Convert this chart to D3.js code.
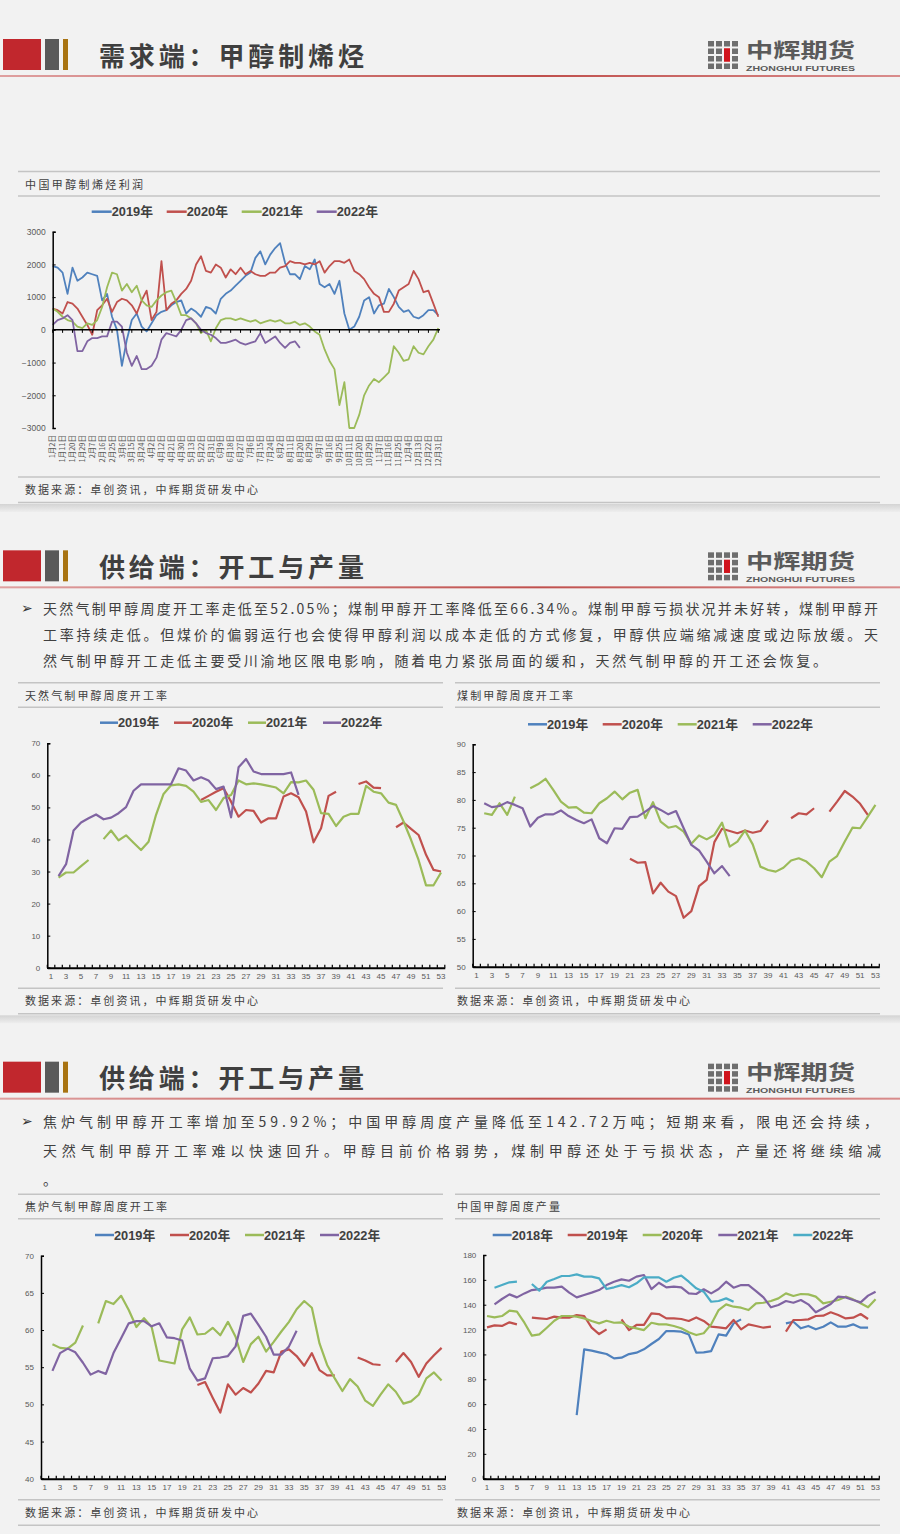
<!DOCTYPE html>
<html><head><meta charset="utf-8">
<script src="https://cdn.jsdelivr.net/npm/d3@7"></script>
<style>body{margin:0;background:#f2f2f2;}svg{display:block}</style>
</head><body>
<svg id="c" width="900" height="1534"></svg>
<script>
const _ = null;
// ---------- Slide titles & texts ----------
const slideTitles = ['需求端：甲醇制烯烃','供给端：开工与产量','供给端：开工与产量'];
const slide2Text = ['天然气制甲醇周度开工率走低至52.05%；煤制甲醇开工率降低至66.34%。煤制甲醇亏损状况并未好转，煤制甲醇开',
 '工率持续走低。但煤价的偏弱运行也会使得甲醇利润以成本走低的方式修复，甲醇供应端缩减速度或边际放缓。天',
 '然气制甲醇开工走低主要受川渝地区限电影响，随着电力紧张局面的缓和，天然气制甲醇的开工还会恢复。'];
const slide3Text = ['焦炉气制甲醇开工率增加至59.92%；中国甲醇周度产量降低至142.72万吨；短期来看，限电还会持续，',
 '天然气制甲醇开工率难以快速回升。甲醇目前价格弱势，煤制甲醇还处于亏损状态，产量还将继续缩减','。'];
const sourceText = '数据来源：卓创资讯，中辉期货研发中心';
const chartTitles = ['中国甲醇制烯烃利润','天然气制甲醇周度开工率','煤制甲醇周度开工率','焦炉气制甲醇周度开工率','中国甲醇周度产量'];
const yearLabels = ['2019年','2020年','2021年','2022年'];
const prodYearLabels = ['2018年','2019年','2020年','2021年','2022年'];

// ---------- Chart 1: MTO profit (sampled every 4.5 trading days) ----------
const olefinDateLabels = ['1月2日','1月11日','1月20日','1月29日','2月7日','2月16日','2月25日','3月6日','3月15日','3月24日',
 '4月2日','4月12日','4月21日','4月30日','5月13日','5月22日','5月31日','6月9日','6月18日','6月27日',
 '7月6日','7月15日','7月24日','8月2日','8月11日','8月20日','8月29日','9月7日','9月16日','9月25日',
 '10月11日','10月20日','10月29日','11月7日','11月16日','11月25日','12月4日','12月13日','12月22日','12月31日'];
const olefinTicks = [-3000,-2000,-1000,0,1000,2000,3000];
const olefin2019 = [1950,1900,1750,1100,1900,1500,1600,1750,1700,1650,900,1100,400,0,-1100,-300,300,500,100,-50,
 200,450,550,600,750,850,900,500,650,550,400,700,650,500,950,1100,1200,1350,1500,1650,
 1750,2200,2400,2000,2300,2500,2650,2050,1700,1700,1550,1950,1850,2150,1400,1300,1400,1100,1500,500,
 0,100,400,900,1000,500,750,800,1250,1000,700,550,600,400,350,450,600,600,450];
const olefin2020 = [650,600,500,850,800,650,400,150,-150,600,750,950,550,850,950,900,750,500,900,1200,
 300,550,2100,600,800,900,1100,1250,1500,2000,2250,1800,1750,2000,1900,1600,1850,1700,1900,1700,
 1800,1700,1650,1650,1750,1750,1900,1950,2100,2050,2050,2000,2050,2000,2100,1750,1950,2100,2100,2050,
 2150,1800,1700,1550,1300,1100,1000,550,550,800,1200,1300,1400,1800,1550,1150,1200,800,400];
const olefin2021 = [650,550,400,300,250,100,50,200,150,300,700,1300,1750,1700,1200,1400,1150,1350,900,750,
 700,900,1050,1150,1200,850,450,450,350,200,-100,0,-350,50,300,350,350,300,350,300,
 250,300,200,250,300,250,300,200,200,250,150,200,100,-50,-150,-600,-950,-1200,-2300,-1600,
 -3000,-3000,-2600,-2000,-1700,-1500,-1600,-1450,-1300,-500,-700,-950,-900,-500,-700,-750,-500,-300,50];
const olefin2022 = [150,300,350,450,300,-650,-650,-350,-250,-250,-200,-200,250,250,100,-700,-1100,-800,-1200,-1200,
 -1100,-850,-300,-100,-150,-200,0,300,350,200,0,-100,-150,-250,-400,-400,-350,-300,-400,-450,
 -400,-350,-100,-400,-300,-200,-400,-550,-400,-350,-550];

// ---------- Weekly charts ----------
const weeks = d3.range(1, 54);
const weekTickLabels = d3.range(1, 54, 2);

const ngas2019 = [];
const ngas2020 = [_,_,_,_,_,_,_,_,_,_,_,_,_,_,_,_,_,_,_,_,52.3,53.6,54.9,56.0,51.8,47.1,49.2,48.9,45.3,46.6,46.6,53.4,54.4,53.2,48.7,39.1,43.5,53.6,54.9,_,_,57.3,58.1,56.2,56.0,_,43.8,45.3,43.3,41.4,35.2,30.5,30.0];
const ngas2021 = [_,28.1,29.7,29.7,31.7,33.6,_,40.1,42.8,39.7,41.3,39.0,36.7,39.3,47.7,54.2,56.9,57.2,56.7,54.9,51.7,52.3,49.2,52.9,53.9,58.4,57.2,57.5,57.2,56.7,56.2,54.4,57.9,57.8,58.4,55.5,48.2,48.0,44.2,47.1,48.0,48.0,56.7,54.9,54.4,51.5,50.8,45.6,39.9,33.6,25.7,25.7,29.7];
const ngas2022 = [_,28.6,32.3,42.8,45.3,46.6,47.8,46.3,46.8,48.2,50.1,55.2,57.2,57.2,57.2,57.2,57.2,62.2,61.5,58.4,59.4,58.4,55.7,56.5,46.9,62.5,65.1,61.2,60.4,60.4,60.4,60.4,60.9,53.9];
const ngasTicks = [0,10,20,30,40,50,60,70];

const coal2019 = [];
const coal2020 = [_,_,_,_,_,_,_,_,_,_,_,_,_,_,_,_,_,_,_,_,69.4,68.7,68.8,63.2,65.1,63.5,62.7,58.8,60.0,64.5,65.6,72.4,74.8,74.4,74.0,74.5,74.1,74.4,76.3,_,_,76.7,77.6,77.4,78.5,_,77.9,79.7,81.6,80.6,79.3,77.3];
const coal2021 = [_,77.6,77.3,79.4,77.3,80.6,_,82.1,82.8,83.8,81.8,79.7,78.6,78.7,77.7,77.6,79.4,80.3,81.5,80.1,81.3,81.8,76.7,79.6,76.1,75.0,75.3,74.3,72.1,73.6,72.9,73.7,75.9,71.6,72.5,74.5,72.0,68.0,67.4,67.1,67.8,69.1,69.5,68.9,67.7,66.1,68.9,69.9,72.5,75.0,74.9,77.0,79.1];
const coal2022 = [_,79.4,78.7,78.9,79.6,79.1,78.5,75.2,76.8,77.4,77.4,78.1,77.1,76.4,75.8,76.5,73.1,72.2,74.9,74.8,76.9,77.0,77.9,78.9,78.2,77.4,78.0,74.9,71.9,70.9,68.9,66.8,68.1,66.3];
const coalTicks = [50,55,60,65,70,75,80,85,90];

const coke2019 = [];
const coke2020 = [_,_,_,_,_,_,_,_,_,_,_,_,_,_,_,_,_,_,_,_,52.6,53.0,50.9,48.9,52.7,51.3,52.2,51.6,52.8,54.5,54.3,57.1,57.4,56.5,55.2,56.9,54.6,53.9,53.9,_,_,56.3,55.9,55.4,55.3,_,55.7,56.9,55.7,53.7,55.5,56.6,57.6];
const coke2021 = [_,58.1,57.6,57.5,58.3,60.6,_,60.9,63.9,63.5,64.6,62.7,60.4,61.6,60.4,55.9,55.7,55.5,60.1,61.7,59.4,59.5,60.3,59.3,61.1,59.1,55.7,58.1,59.1,57.1,58.4,59.8,61.1,62.8,63.9,63.0,58.2,55.3,53.5,51.8,53.4,52.4,50.5,49.8,51.3,52.7,51.7,50.1,50.4,51.3,53.5,54.3,53.2];
const coke2022 = [_,54.5,56.9,57.5,57.0,55.6,54.0,54.5,54.1,56.9,58.9,60.9,61.2,61.2,60.5,60.9,59.0,58.9,58.6,54.8,53.2,53.5,56.2,56.3,56.5,57.8,61.9,62.2,60.7,59.1,56.7,56.7,57.8,59.9];
const cokeTicks = [40,45,50,55,60,65,70];

const prod2018 = [_,_,_,_,_,_,_,_,_,_,_,_,51.2,104.1,103.0,101.7,100.3,96.8,97.4,100.3,101.4,104.1,108.4,112.4,118.8,118.8,118.3,116.1,101.4,101.7,102.7,116.1,115.1,125.0,128.2,_,_,_,_,_,125.0,126.3,121.0,122.9,120.2,122.3,125.8,122.3,122.3,124.2,121.5,121.5];
const prod2019 = [121.8,123.4,122.9,125.8,124.2,_,129.6,129.0,128.5,130.4,129.6,129.6,131.7,130.9,121.5,116.4,120.2,_,128.2,119.6,123.7,123.7,133.0,132.5,129.0,129.0,128.5,126.9,129.8,126.9,122.3,121.8,121.0,127.7,120.2,124.2,122.9,121.5,122.3,_,118.3,127.7,127.7,128.2,130.9,131.2,133.9,131.7,129.0,129.6,132.5,128.5];
const prod2020 = [130.9,129.8,130.9,135.2,134.4,125.5,115.1,116.1,121.5,127.1,130.9,130.9,130.4,129.0,126.9,125.0,127.1,125.5,125.8,122.3,121.0,119.6,125.5,124.2,124.2,122.9,121.0,117.8,115.6,117.0,124.2,135.7,140.3,138.4,137.6,135.7,141.1,141.6,143.0,145.1,149.1,147.0,148.6,148.3,146.5,141.1,142.4,143.8,146.5,144.3,141.1,137.9,144.3];
const prod2021 = [_,140.3,144.6,148.3,145.9,149.1,151.8,152.6,153.7,153.7,154.5,149.7,145.9,147.8,149.7,151.8,155.8,158.5,160.4,159.3,162.6,163.9,152.6,157.7,154.0,154.5,154.0,149.1,148.6,152.4,149.1,152.6,158.5,153.7,155.8,155.8,151.0,145.9,137.9,139.8,143.0,141.6,143.8,140.3,133.9,137.1,140.6,146.5,145.9,143.8,141.9,147.3,150.5];
const prod2022 = [_,153.7,155.8,158.0,158.5,_,156.7,151.3,158.5,160.7,163.1,163.1,164.4,162.6,162.6,161.2,152.6,154.0,155.8,154.0,157.2,162.0,162.0,162.0,158.5,161.7,163.4,158.5,153.2,150.5,142.4,143.0,145.1,142.4];
const prodTicks = [0,20,40,60,80,100,120,140,160,180];

// ---------- Drawing ----------
const slideH = 1534/3;
const COL = {blue:'#4F81BD', red:'#C0504D', green:'#9BBB59', purple:'#8064A2', cyan:'#4BACC6'};
const CJK = '"Noto Sans CJK SC", sans-serif';
const NUM = '"Liberation Sans", Arial, "Noto Sans CJK SC", sans-serif';
const svg = d3.select('#c');
svg.append('rect').attr('width',900).attr('height',1534).attr('fill','#f2f2f2');
const defs = svg.append('defs');
const rg = defs.append('linearGradient').attr('id','redline');
[['0%','#dfa0a0'],['60%','#c0504d'],['100%','#d98c8c']].forEach(s=>rg.append('stop').attr('offset',s[0]).attr('stop-color',s[1]));
const sg = defs.append('linearGradient').attr('id','shade').attr('x1',0).attr('y1',0).attr('x2',0).attr('y2',1);
[['0%','#d4d4d4'],['100%','#eeeeee']].forEach(s=>sg.append('stop').attr('offset',s[0]).attr('stop-color',s[1]));

function header(k){
  const g = svg.append('g').attr('transform',`translate(0,${k*slideH})`);
  g.append('rect').attr('x',3).attr('y',39).attr('width',38).attr('height',31).attr('fill','#c1272d');
  g.append('rect').attr('x',45).attr('y',39).attr('width',14).attr('height',31).attr('fill','#595959');
  g.append('rect').attr('x',63).attr('y',39).attr('width',5).attr('height',31).attr('fill','#a87312');
  g.append('text').attr('x',99).attr('y',54).attr('dominant-baseline','central')
    .attr('font-family',CJK).attr('font-weight',700).attr('font-size',26).attr('fill','#3f3f3f')
    .attr('textLength',265).attr('lengthAdjust','spacing').text(slideTitles[k]);
  g.append('rect').attr('x',0).attr('y',75).attr('width',900).attr('height',2).attr('fill','url(#redline)');
  // logo
  for(let r=0;r<4;r++) for(let c=0;c<4;c++){
    const red = (c===2 && (r===1||r===2));
    g.append('rect').attr('x',708+c*8).attr('y',41+r*7.5).attr('width',6).attr('height',5.5)
      .attr('fill', red ? '#d0141c' : '#6e6e6e');
  }
  g.append('rect').attr('x',724).attr('y',48.5).attr('width',6).attr('height',13).attr('fill','#d0141c');
  g.append('text').attr('x',746).attr('y',49).attr('dominant-baseline','central').attr('font-family',CJK)
    .attr('font-weight',700).attr('font-size',20).attr('fill','#5a5a5a').attr('textLength',109).attr('lengthAdjust','spacingAndGlyphs').text('中辉期货');
  g.append('text').attr('x',746).attr('y',70.5).attr('font-family','"Liberation Sans Narrow","Liberation Sans",Arial')
    .attr('font-weight',700).attr('font-size',8).attr('fill','#5a5a5a').attr('textLength',109).attr('lengthAdjust','spacingAndGlyphs').text('ZHONGHUI FUTURES');
  if(k<2) g.append('rect').attr('x',0).attr('y',504).attr('width',900).attr('height',8).attr('fill','url(#shade)');
}

function frame(k, split){
  const g = svg.append('g').attr('transform',`translate(0,${k*slideH})`);
  const segs = split ? [[18,443],[455,880]] : [[18,880]];
  [171.5,196,477].forEach(yy => segs.forEach(s => g.append('line').attr('x1',s[0]).attr('x2',s[1]).attr('y1',yy).attr('y2',yy).attr('stroke','#c4c4c4').attr('stroke-width',1.5)));
  g.append('line').attr('x1',18).attr('x2',880).attr('y1',502.5).attr('y2',502.5).attr('stroke','#c4c4c4').attr('stroke-width',1.5);
  return g;
}
function smallText(g, x, y, str, len){
  g.append('text').attr('x',x).attr('y',y).attr('dominant-baseline','central').attr('font-family',CJK)
    .attr('font-size',11).attr('fill','#404040').attr('textLength',len).attr('lengthAdjust','spacing').text(str);
}
function paragraph(k, lines, ys, lens){
  const g = svg.append('g').attr('transform',`translate(0,${k*slideH})`);
  g.append('text').attr('x',21).attr('y',ys[0]).attr('dominant-baseline','central').attr('font-family','"DejaVu Sans"')
    .attr('font-weight',700).attr('font-size',14).attr('fill','#333').text('➢');
  lines.forEach((t,i)=>{
    const tx = g.append('text').attr('x',43).attr('y',ys[i]).attr('dominant-baseline','central').attr('font-family',CJK)
      .attr('font-size',14).attr('fill','#404040').text(t);
    if(lens[i]) tx.attr('textLength',lens[i]).attr('lengthAdjust','spacing');
  });
}
function legend(y, xs, len, labels, colors){
  const g = svg.append('g');
  labels.forEach((l,i)=>{
    g.append('line').attr('x1',xs[i]).attr('x2',xs[i]+len).attr('y1',y).attr('y2',y).attr('stroke',colors[i]).attr('stroke-width',2.5);
    g.append('text').attr('x',xs[i]+len).attr('y',y).attr('dominant-baseline','central').attr('font-family',NUM)
      .attr('font-weight',700).attr('font-size',12.8).attr('fill','#404040').text(l);
  });
}

[0,1,2].forEach(header);
const f1 = frame(0,false), f2 = frame(1,true), f3 = frame(2,true);
smallText(f1,25,183.5,chartTitles[0],118); smallText(f1,25,489,sourceText,233);
smallText(f2,25,183.5,chartTitles[1],142); smallText(f2,25,489,sourceText,233);
smallText(f2,457,183.5,chartTitles[2],116); smallText(f2,457,489,sourceText,233);
smallText(f3,25,183.5,chartTitles[3],142); smallText(f3,25,489,sourceText,233);
smallText(f3,457,183.5,chartTitles[4],103); smallText(f3,457,489,sourceText,233);
paragraph(1, slide2Text, [97,123,149], [835,835,784]);
paragraph(2, slide3Text, [98.5,127.5,156], [835,838,0]);

// ----- Chart 1 -----
(function(){
  const step = 4.5;
  const x = d3.scaleLinear().domain([0,(olefinDateLabels.length-1)*9]).range([52.7,438.3]);
  const y = d3.scaleLinear().domain([-3000,3000]).range([428,231.7]);
  const g = svg.append('g');
  defs.append('clipPath').attr('id','clip1').append('rect').attr('x',50).attr('y',229).attr('width',395).attr('height',200);
  const series = [olefin2019,olefin2020,olefin2021,olefin2022];
  const colors = [COL.blue,COL.red,COL.green,COL.purple];
  const line = d3.line().defined(d=>d[1]!=null).x(d=>x(d[0])).y(d=>y(d[1]));
  const lg = g.append('g').attr('clip-path','url(#clip1)');
  series.forEach((s,i)=>{
    lg.append('path').datum(s.map((v,j)=>[j*step,v])).attr('d',line).attr('fill','none')
      .attr('stroke',colors[i]).attr('stroke-width',1.8).attr('stroke-linejoin','round');
  });
  const ya = g.append('g').attr('transform','translate(52.7,0)').call(d3.axisLeft(y).tickValues(olefinTicks).tickSize(-3).tickPadding(7).tickFormat(d3.format('d')));
  ya.select('.domain').attr('stroke','#000').attr('stroke-width',1.5);
  ya.selectAll('.tick line').attr('stroke','#000');
  ya.selectAll('text').attr('font-family',NUM).attr('font-size',8.5).attr('fill','#595959');
  g.append('line').attr('x1',52.7).attr('x2',440).attr('y1',y(0)).attr('y2',y(0)).attr('stroke','#000').attr('stroke-width',1.5);
  g.selectAll('.xt').data(olefinDateLabels).join('line').attr('x1',(d,i)=>x(i*9)).attr('x2',(d,i)=>x(i*9))
    .attr('y1',y(0)).attr('y2',y(0)+3).attr('stroke','#000');
  g.selectAll('.xl').data(olefinDateLabels).join('text')
    .attr('transform',(d,i)=>`translate(${x(i*9)},435) rotate(-90)`).attr('text-anchor','end').attr('dy','0.35em')
    .attr('font-family',CJK).attr('font-size',7.5).attr('fill','#595959').text(d=>d);
  legend(211.7,[91.7,166.7,241.7,316.7],20,yearLabels,colors);
})();

// ----- Weekly charts -----
function weekly(cfg){
  const x = d3.scaleBand().domain(weeks).range([cfg.left,cfg.right]).padding(0);
  const cx = w => x(w)+x.bandwidth()/2;
  const y = d3.scaleLinear().domain([cfg.ticks[0],cfg.ticks[cfg.ticks.length-1]]).range([cfg.bottom,cfg.top]);
  const g = svg.append('g');
  const line = d3.line().defined(d=>d[1]!=null).x(d=>cx(d[0])).y(d=>y(d[1]));
  cfg.series.forEach((s,i)=>{
    g.append('path').datum(s.map((v,j)=>[weeks[j],v])).attr('d',line).attr('fill','none')
      .attr('stroke',cfg.colors[i]).attr('stroke-width',2.2).attr('stroke-linejoin','round');
  });
  const ya = g.append('g').attr('transform',`translate(${cfg.left},0)`).call(d3.axisLeft(y).tickValues(cfg.ticks).tickSize(-3).tickPadding(7));
  ya.select('.domain').attr('stroke','#000').attr('stroke-width',1.5);
  ya.selectAll('.tick line').attr('stroke','#000');
  ya.selectAll('text').attr('font-family',NUM).attr('font-size',8).attr('fill','#595959');
  const xa = g.append('g').attr('transform',`translate(0,${cfg.bottom})`).call(d3.axisBottom(x).tickValues(weekTickLabels).tickSize(0).tickPadding(6));
  xa.select('.domain').attr('stroke','#000').attr('stroke-width',2);
  xa.selectAll('text').attr('font-family',NUM).attr('font-size',8).attr('fill','#595959');
  g.selectAll('.bt').data(d3.range(0,weeks.length+1)).join('line')
    .attr('x1',i=>cfg.left+i*x.bandwidth()).attr('x2',i=>cfg.left+i*x.bandwidth())
    .attr('y1',cfg.bottom).attr('y2',cfg.bottom-3).attr('stroke','#000').attr('stroke-width',1.2);
  legend(cfg.legendY,cfg.legendX,cfg.legendLen,cfg.labels,cfg.colors);
}
const c4 = [COL.blue,COL.red,COL.green,COL.purple];
weekly({left:47.3,right:444.8,top:743.3,bottom:967.7,ticks:ngasTicks,series:[ngas2019,ngas2020,ngas2021,ngas2022],colors:c4,labels:yearLabels,legendY:722.7,legendX:[100,174,248,323],legendLen:18});
weekly({left:472.7,right:879.3,top:744.3,bottom:966.7,ticks:coalTicks,series:[coal2019,coal2020,coal2021,coal2022],colors:c4,labels:yearLabels,legendY:724.3,legendX:[528,602.7,677.7,752.7],legendLen:19});
weekly({left:41,right:445.4,top:1255.7,bottom:1478.7,ticks:cokeTicks,series:[coke2019,coke2020,coke2021,coke2022],colors:c4,labels:yearLabels,legendY:1235,legendX:[95,170,245,320],legendLen:19});
weekly({left:483.3,right:879.3,top:1255,bottom:1478.7,ticks:prodTicks,series:[prod2018,prod2019,prod2020,prod2021,prod2022],colors:[COL.blue,COL.red,COL.green,COL.purple,COL.cyan],labels:prodYearLabels,legendY:1235,legendX:[492.7,567.7,642.7,718.3,793.3],legendLen:19});
</script>
</body></html>
